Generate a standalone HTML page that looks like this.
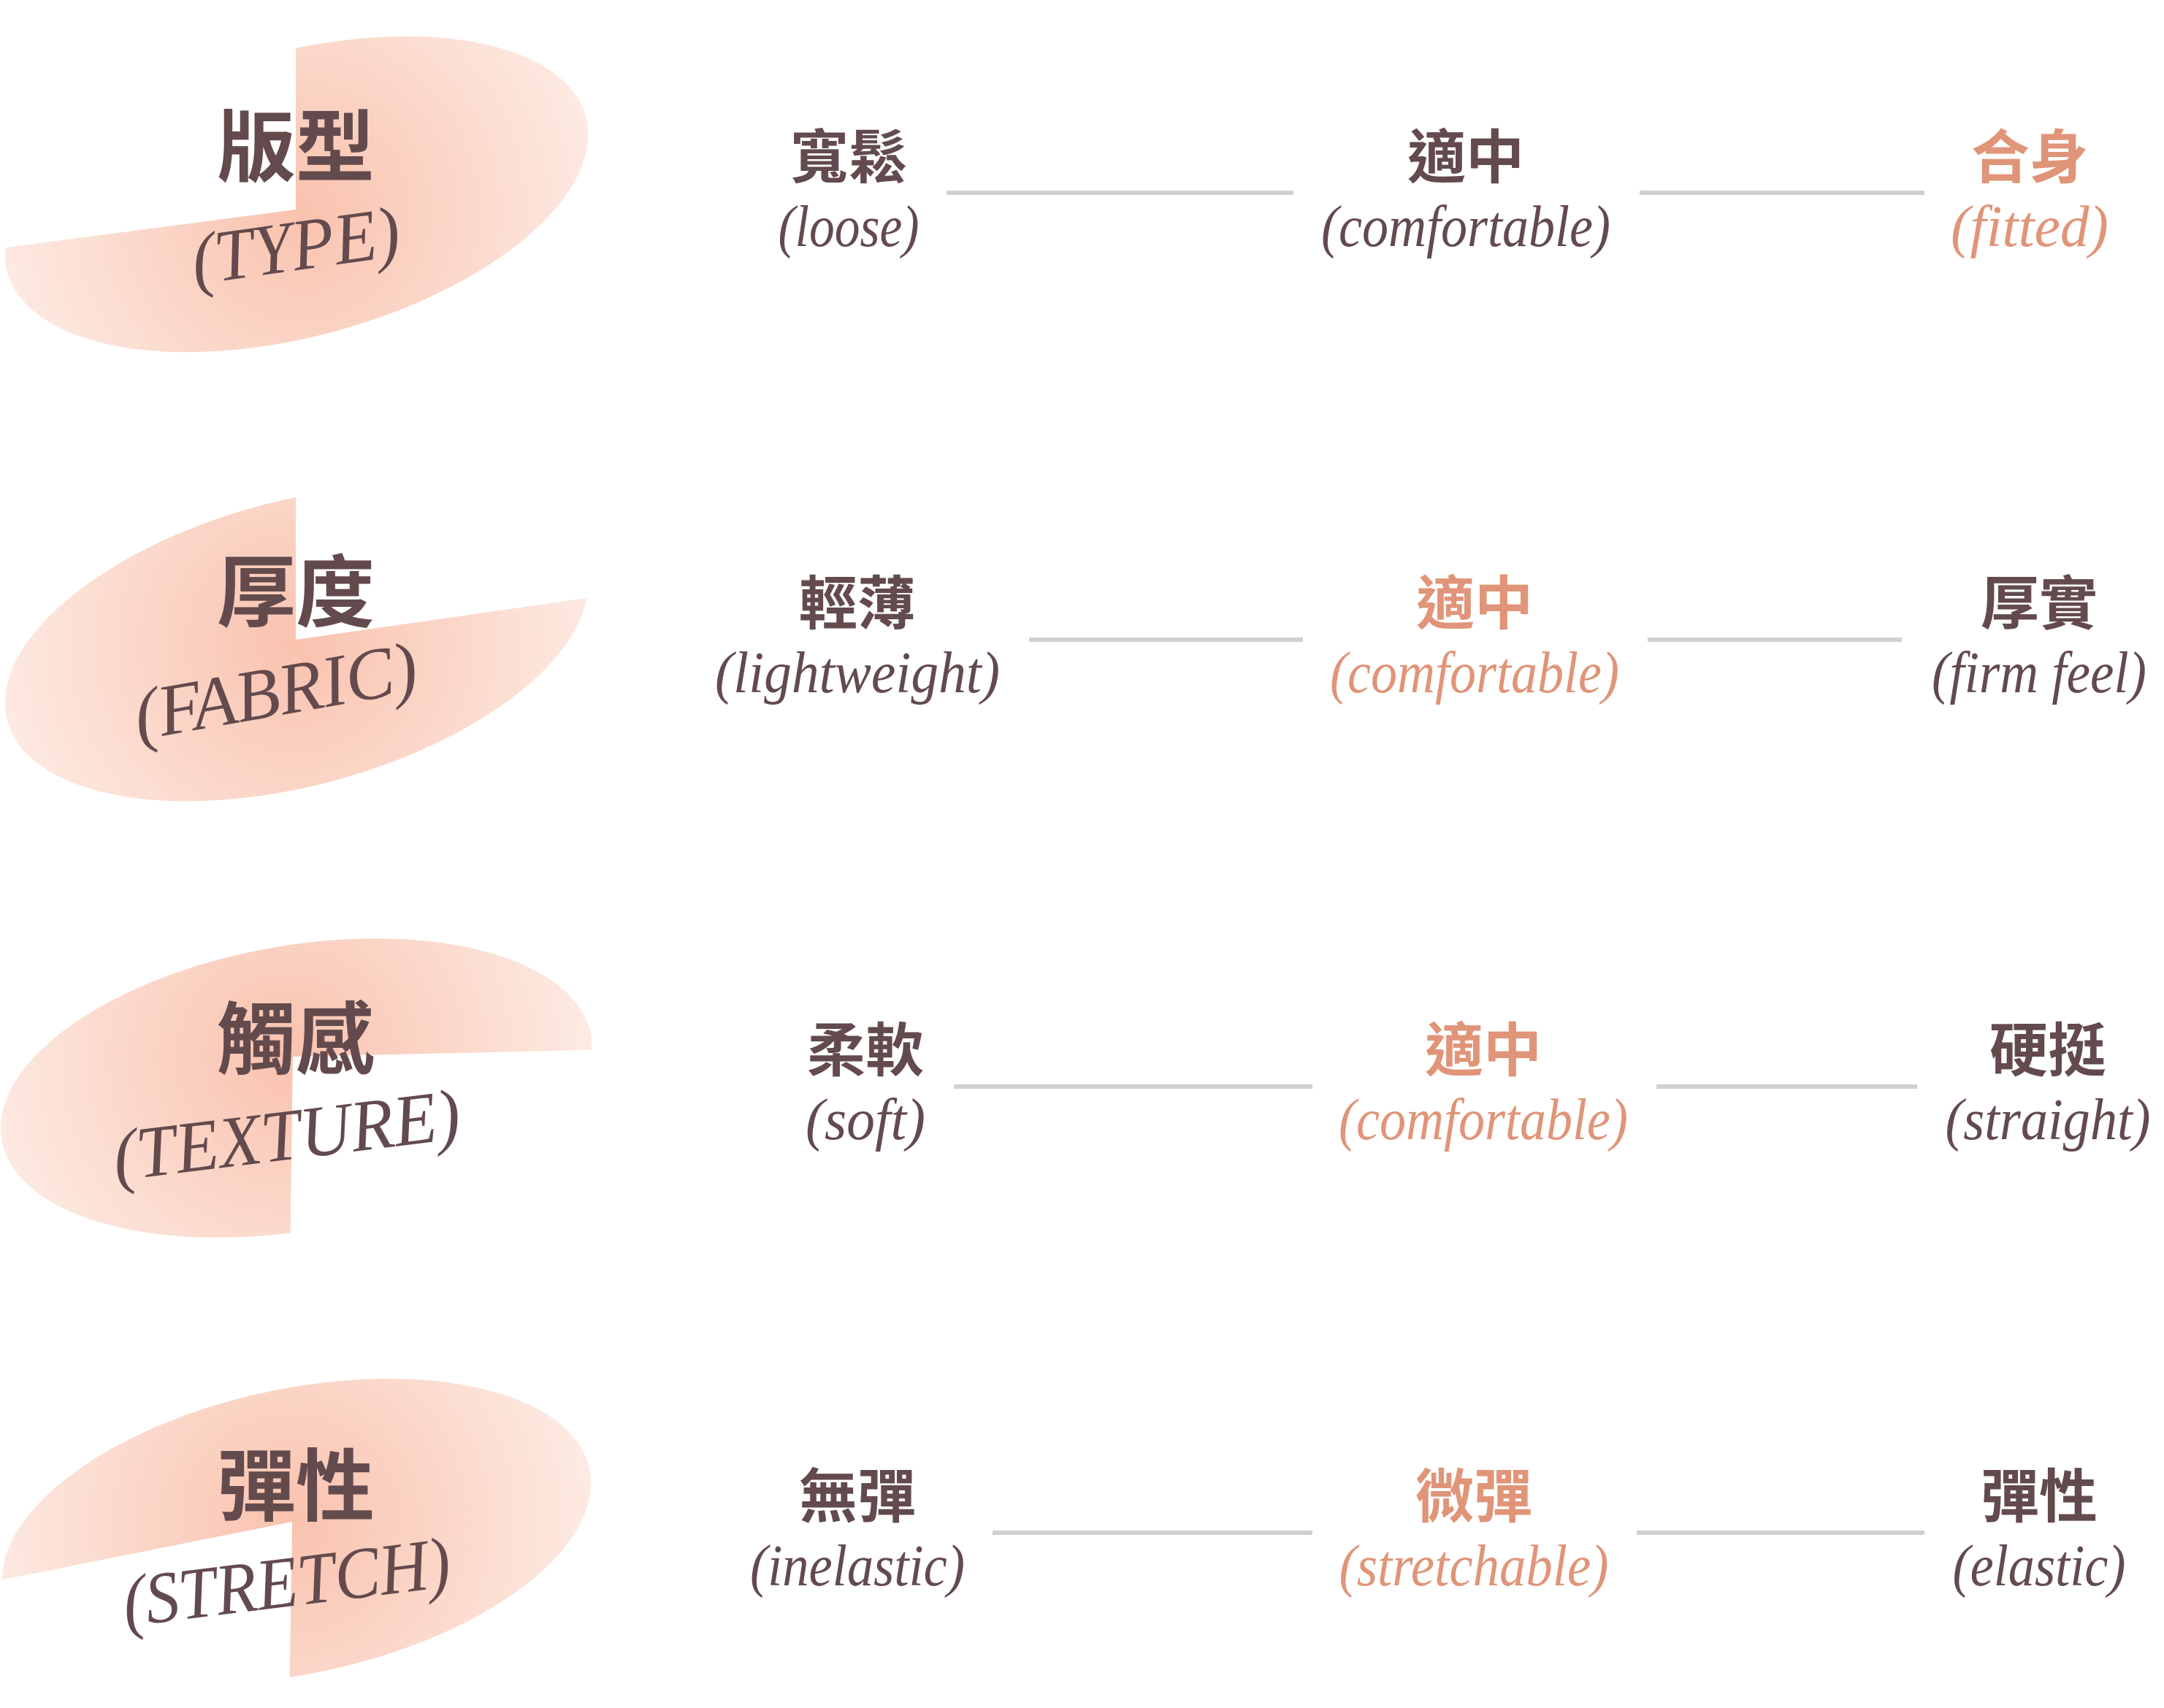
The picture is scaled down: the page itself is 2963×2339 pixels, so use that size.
<!DOCTYPE html>
<html><head><meta charset="utf-8"><style>
html,body{margin:0;padding:0;background:#fff;}
svg{display:block;}
.cj{font-family:"Liberation Sans","Noto Sans CJK TC",sans-serif;font-weight:bold;font-size:80px;text-anchor:middle;}
.en{font-family:"Liberation Serif",serif;font-style:italic;font-size:80px;text-anchor:middle;}
.hd{font-family:"Liberation Sans","Noto Sans CJK TC",sans-serif;font-weight:bold;font-size:108px;text-anchor:middle;fill:#634a4d;}
.he{font-family:"Liberation Serif",serif;font-style:italic;font-size:100px;text-anchor:middle;fill:#634a4d;}
.d{fill:#634a4d}.o{fill:#e09478}
line{stroke:#d0d0d0;stroke-width:6}
</style></head><body>
<svg width="2963" height="2339" viewBox="0 0 2963 2339" xmlns="http://www.w3.org/2000/svg">
<defs>
<radialGradient id="g1" gradientUnits="userSpaceOnUse" cx="405" cy="290" r="420"><stop offset="0" stop-color="#f9c2ae"/><stop offset="1" stop-color="#fdebe3"/></radialGradient>
<radialGradient id="g2" gradientUnits="userSpaceOnUse" cx="405" cy="880" r="420"><stop offset="0" stop-color="#f9c2ae"/><stop offset="1" stop-color="#fdebe3"/></radialGradient>
<radialGradient id="g3" gradientUnits="userSpaceOnUse" cx="400" cy="1445" r="420"><stop offset="0" stop-color="#f9c2ae"/><stop offset="1" stop-color="#fdebe3"/></radialGradient>
<radialGradient id="g4" gradientUnits="userSpaceOnUse" cx="400" cy="2085" r="420"><stop offset="0" stop-color="#f9c2ae"/><stop offset="1" stop-color="#fdebe3"/></radialGradient>
<clipPath id="c1"><polygon points="405,0 1000,0 1000,600 0,600 0,340 405,287"/></clipPath>
<clipPath id="c2"><polygon points="0,600 405,600 405,876 810,818 810,1200 0,1200"/></clipPath>
<clipPath id="c3"><polygon points="0,1200 810,1200 810,1438 401,1447 396,1800 0,1800"/></clipPath>
<clipPath id="c4"><polygon points="0,1800 810,1800 810,2339 396,2339 400,2084 0,2164"/></clipPath>
</defs>
<g clip-path="url(#c1)"><ellipse cx="406" cy="266" rx="410" ry="195" transform="rotate(-15 406 266)" fill="url(#g1)"/></g>
<g clip-path="url(#c2)"><ellipse cx="406" cy="881" rx="410" ry="195" transform="rotate(-15 406 881)" fill="url(#g2)"/></g>
<g clip-path="url(#c3)"><ellipse cx="406" cy="1490" rx="410" ry="195" transform="rotate(-10 406 1490)" fill="url(#g3)"/></g>
<g clip-path="url(#c4)"><ellipse cx="406" cy="2097" rx="410" ry="195" transform="rotate(-12 406 2097)" fill="url(#g4)"/></g>

<text class="hd" x="405" y="240">版型</text>
<text class="he" x="405" y="370" textLength="287" lengthAdjust="spacingAndGlyphs" transform="rotate(-8 405 340)">(TYPE)</text>
<text class="hd" x="405" y="850">厚度</text>
<text class="he" x="377" y="980" textLength="392" lengthAdjust="spacingAndGlyphs" transform="rotate(-10 377 946)">(FABRIC)</text>
<text class="hd" x="405" y="1462">觸感</text>
<text class="he" x="392" y="1588" textLength="478" lengthAdjust="spacingAndGlyphs" transform="rotate(-7 392 1553)">(TEXTURE)</text>
<text class="hd" x="405" y="2074">彈性</text>
<text class="he" x="392" y="2200" textLength="451" lengthAdjust="spacingAndGlyphs" transform="rotate(-7 392 2166)">(STRETCH)</text>

<line x1="1296" y1="264" x2="1771" y2="264"/><line x1="2245" y1="264" x2="2635" y2="264"/>
<text class="cj d" x="1162" y="244">寬鬆</text><text class="en d" x="1162" y="337" textLength="193" lengthAdjust="spacingAndGlyphs">(loose)</text>
<text class="cj d" x="2007" y="244">適中</text><text class="en d" x="2007" y="337" textLength="396" lengthAdjust="spacingAndGlyphs">(comfortable)</text>
<text class="cj o" x="2779" y="244">合身</text><text class="en o" x="2779" y="337" textLength="216" lengthAdjust="spacingAndGlyphs">(fitted)</text>

<line x1="1409" y1="876" x2="1784" y2="876"/><line x1="2256" y1="876" x2="2604" y2="876"/>
<text class="cj d" x="1174" y="855">輕薄</text><text class="en d" x="1174" y="948" textLength="390" lengthAdjust="spacingAndGlyphs">(lightweight)</text>
<text class="cj o" x="2019" y="855">適中</text><text class="en o" x="2019" y="948" textLength="396" lengthAdjust="spacingAndGlyphs">(comfortable)</text>
<text class="cj d" x="2792" y="855">厚實</text><text class="en d" x="2792" y="948" textLength="294" lengthAdjust="spacingAndGlyphs">(firm feel)</text>

<line x1="1306" y1="1488" x2="1797" y2="1488"/><line x1="2268" y1="1488" x2="2625" y2="1488"/>
<text class="cj d" x="1185" y="1467">柔軟</text><text class="en d" x="1185" y="1560" textLength="164" lengthAdjust="spacingAndGlyphs">(soft)</text>
<text class="cj o" x="2031" y="1467">適中</text><text class="en o" x="2031" y="1560" textLength="396" lengthAdjust="spacingAndGlyphs">(comfortable)</text>
<text class="cj d" x="2804" y="1467">硬挺</text><text class="en d" x="2804" y="1560" textLength="281" lengthAdjust="spacingAndGlyphs">(straight)</text>

<line x1="1359" y1="2099" x2="1797" y2="2099"/><line x1="2241" y1="2099" x2="2635" y2="2099"/>
<text class="cj d" x="1174" y="2078">無彈</text><text class="en d" x="1174" y="2171" textLength="294" lengthAdjust="spacingAndGlyphs">(inelastic)</text>
<text class="cj o" x="2018" y="2078">微彈</text><text class="en o" x="2018" y="2171" textLength="369" lengthAdjust="spacingAndGlyphs">(stretchable)</text>
<text class="cj d" x="2792" y="2078">彈性</text><text class="en d" x="2792" y="2171" textLength="237" lengthAdjust="spacingAndGlyphs">(elastic)</text>
</svg>
</body></html>
